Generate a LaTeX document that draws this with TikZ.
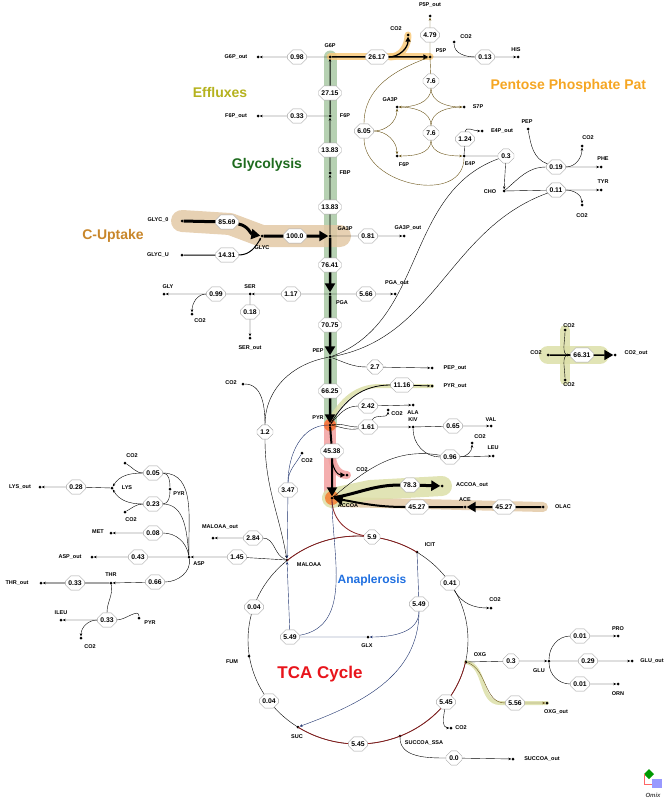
\documentclass[tikz,border=0pt]{standalone}
\usepackage{fontspec}
\setmainfont{Liberation Sans}
\usetikzlibrary{shapes.misc,arrows.meta}
\definecolor{olivel}{HTML}{B5B21E}
\definecolor{pppc}{HTML}{F5A623}
\definecolor{glyc}{HTML}{1E6B1E}
\definecolor{cupt}{HTML}{C8862A}
\definecolor{tcar}{HTML}{E8141B}
\definecolor{anab}{HTML}{1F6FE0}
\definecolor{bandg}{HTML}{A9C9A4}
\definecolor{bandb}{HTML}{E3C9A6}
\definecolor{bandr}{HTML}{F2A0A0}
\definecolor{bando}{HTML}{DCDFA8}
\definecolor{brl}{HTML}{6B5518}
\definecolor{navy}{HTML}{1B2F6B}
\definecolor{dred}{HTML}{8A1F1F}
\newcommand{\Met}[4]{\node[met] (#1) at (#2) {}; \node[lab] at (#3) {#4};}
\newcommand{\Flux}[3]{\node[flux] (#1) at (#2) {#3};}

\begin{document}
\begin{tikzpicture}[x=1pt,y=-1pt,
  met/.style = {circle, fill=black, inner sep=0pt, minimum size=3pt},
  lab/.style = {font=\fontsize{5.5}{6}\selectfont\bfseries, inner sep=0pt},
  flux/.style = {chamfered rectangle, chamfered rectangle xsep=1.8pt, draw=gray!70, fill=white, inner sep=1.2pt, minimum width=16pt, font=\fontsize{6.8}{8}\selectfont\bfseries},
  fl/.style = {-{Stealth[length=3pt,width=2.5pt]}, thin},
  big/.style = {-{Triangle[length=9pt,width=10pt]}, line width=3pt},
  mid/.style = {-{Triangle[length=5pt,width=5pt]}, line width=1.3pt},
  band/.style = {line cap=round, line join=round, opacity=0.85},
  head/.style = {font=\fontsize{14}{16}\selectfont\bfseries}]
\useasboundingbox (0,0) rectangle (667,800);

% highlight bands
\draw[band, bandg, line width=13pt] (330,57) -- (330,425);
\draw[band, bandr, line width=12pt] (330,425) -- (330,495);
\draw[band, bandr, line width=8pt] (332,455) to[out=-90,in=180] (347,475);
\draw[band, pppc!60, line width=7pt] (330,57) -- (430,57);
\draw[band, pppc!60, line width=7pt] (390,57) to[out=0,in=-90] (408,35);
\draw[band, bandb, line width=22pt] (182,221) -- (230,224) -- (262,236) -- (340,236);
\draw[band, bandb, line width=10pt] (543,507) -- (340,502);
\draw[band, bando, line width=20pt] (332,498) -- (370,490) -- (442,486);
\draw[band, bando, line width=4pt] (330,420) to[out=60,in=180] (380,386) -- (432,386);
\draw[band, bando, line width=4pt] (466,662) to[out=-10,in=180] (500,703) -- (547,703);
\draw[band, bando, line width=18pt] (548,355) -- (600,355);
\draw[band, bando, line width=10pt] (565,330) -- (565,380);
\fill[orange!70!red, opacity=0.6] (330,425) circle (6);
\fill[orange!70!red, opacity=0.6] (332,498) circle (7);

% section titles
\node[head, olivel] at (220,92) {Effluxes};
\node[head, pppc, anchor=west] at (487,86) {Pentose Phosphate Pat};
\node[head, glyc] at (267,165) {Glycolysis};
\node[head, cupt] at (113,236) {C-Uptake};
\node[head, anab, font=\fontsize{12}{14}\selectfont\bfseries] at (372,580) {Anaplerosis};
\node[head, tcar, font=\fontsize{17}{19}\selectfont\bfseries] at (320,674) {TCA Cycle};

% metabolites
\Met{G6P}{330,57}{330,46}{G6P}
\Met{G6Pout}{258,57}{236,57}{G6P\_out}
\Met{F6P}{330,116}{345,116}{F6P}
\Met{F6Pout}{258,116}{236,116}{F6P\_out}
\Met{FBP}{330,173}{345,173}{FBP}
\Met{GA3P}{330,236}{345,229}{GA3P}
\Met{GA3Pout}{404,236}{408,228}{GA3P\_out}
\Met{P5P}{430,57}{441,51}{P5P}
\Met{P5Pout}{430,16}{430,5}{P5P\_out}
\Met{CO2a}{408,35}{396,29}{CO2}
\Met{CO2b}{454,42}{466,37}{CO2}
\Met{HIS}{518,57}{516,50}{HIS}
\Met{GA3Pb}{397,107}{390,100}{GA3P}
\Met{S7P}{464,107}{478,107}{S7P}
\Met{F6Pb}{397,156}{404,165}{F6P}
\Met{E4P}{464,156}{470,164}{E4P}
\Met{E4Pout}{482,131}{502,131}{E4P\_out}
\Met{CHO}{504,191}{490,192}{CHO}
\Met{PEPc}{528,129}{527,122}{PEP}
\Met{CO2c}{582,146}{588,138}{CO2}
\Met{PHE}{601,167}{603,159}{PHE}
\Met{TYR}{601,190}{603,182}{TYR}
\Met{CO2d}{582,205}{582,216}{CO2}
\Met{GLYC0}{182,221}{158,220}{GLYC\_0}
\Met{GLYCU}{182,255}{158,255}{GLYC\_U}
\Met{GLYC}{262,236}{262,248}{GLYC}
\Met{PGA}{330,294}{342,303}{PGA}
\Met{PGAout}{395,294}{397,283}{PGA\_out}
\Met{SER}{250,294}{250,287}{SER}
\Met{GLY}{164,294}{168,287}{GLY}
\Met{CO2s}{192,314}{200,321}{CO2}
\Met{SERout}{250,338}{250,348}{SER\_out}
\Met{PEP}{330,357}{318,351}{PEP}
\Met{PEPout}{432,368}{455,368}{PEP\_out}
\Met{PYR}{330,425}{318,418}{PYR}
\Met{PYRout}{432,386}{455,386}{PYR\_out}
\Met{ALA}{413,405}{413,413}{ALA}
\Met{CO2k}{388,410}{397,414}{CO2}
\Met{KIV}{413,427}{413,420}{KIV}
\Met{VAL}{491,426}{491,420}{VAL}
\Met{CO2l}{472,443}{480,437}{CO2}
\Met{LEU}{493,456}{493,448}{LEU}
\Met{CO2e}{243,384}{231,383}{CO2}
\Met{CO2p}{302,453}{307,461}{CO2}
\Met{CO2g}{347,475}{362,470}{CO2}
\Met{ACCOA}{332,498}{348,506}{ACCOA}
\Met{ACCOAout}{442,486}{472,485}{ACCOA\_out}
\Met{ACE}{465,507}{465,500}{ACE}
\Met{OLAC}{543,507}{563,507}{OLAC}
\Met{CO2L}{548,355}{536,353}{CO2}
\Met{CO2T}{565,330}{569,326}{CO2}
\Met{CO2B}{565,380}{569,385}{CO2}
\Met{CO2out}{615,355}{636,353}{CO2\_out}
\Met{ICIT}{417,552}{430,545}{ICIT}
\Met{CO2h}{491,608}{495,600}{CO2}
\Met{MALOAA}{287,560}{309,565}{MALOAA}
\Met{MALOAAout}{213,538}{220,527}{MALOAA\_out}
\Met{GLX}{368,637}{367,646}{GLX}
\Met{FUM}{249,656}{232,662}{FUM}
\Met{SUC}{298,727}{297,737}{SUC}
\Met{SUCCOA}{400,736}{424,743}{SUCCOA\_SSA}
\Met{SUCCOAout}{513,759}{542,759}{SUCCOA\_out}
\Met{CO2i}{451,728}{461,728}{CO2}
\Met{OXG}{466,662}{480,655}{OXG}
\Met{OXGout}{547,703}{556,712}{OXG\_out}
\Met{GLU}{549,661}{539,671}{GLU}
\Met{PRO}{618,636}{618,629}{PRO}
\Met{GLUout}{632,661}{652,661}{GLU\_out}
\Met{ORN}{618,684}{618,694}{ORN}
\Met{ASP}{189,557}{199,564}{ASP}
\Met{ASPout}{92,557}{70,557}{ASP\_out}
\Met{MET}{111,533}{98,532}{MET}
\Met{LYS}{112,488}{127,488}{LYS}
\Met{LYSout}{40,487}{20,487}{LYS\_out}
\Met{CO2m}{125,463}{132,456}{CO2}
\Met{CO2n}{125,512}{131,520}{CO2}
\Met{PYRa}{170,489}{179,494}{PYR}
\Met{THR}{111,583}{111,575}{THR}
\Met{THRout}{41,583}{17,583}{THR\_out}
\Met{ILEU}{61,620}{61,613}{ILEU}
\Met{PYRb}{139,618}{150,623}{PYR}
\Met{CO2j}{81,638}{90,647}{CO2}

% TCA ring
\draw[thin] (358,640) ellipse [x radius=110, y radius=104];
\draw[dred, line width=0.8pt] (358,640) ++(229.8:110 and 104) arc[start angle=229.8, end angle=302.4, x radius=110, y radius=104];
\draw[dred, line width=0.8pt] (358,640) ++(12.2:110 and 104) arc[start angle=12.2, end angle=123, x radius=110, y radius=104];

% fluxes
\Flux{q098}{297,57}{0.98}
\Flux{q2617}{377,57}{26.17}
\Flux{q479}{430,35}{4.79}
\Flux{q013}{485,57}{0.13}
\Flux{q76a}{431,81}{7.6}
\Flux{q76b}{431,133}{7.6}
\Flux{q605}{364,131}{6.05}
\Flux{q124}{465,139}{1.24}
\Flux{q03}{506,156}{0.3}
\Flux{q019}{556,167}{0.19}
\Flux{q011}{556,190}{0.11}
\Flux{q2715}{330,93}{27.15}
\Flux{q033}{297,116}{0.33}
\Flux{q1383a}{330,150}{13.83}
\Flux{q1383b}{330,207}{13.83}
\Flux{q081}{368,236}{0.81}
\Flux{q8569}{227,222}{85.69}
\Flux{q1431}{227,255}{14.31}
\Flux{q100}{295,236}{100.0}
\Flux{q7641}{330,265}{76.41}
\Flux{q566}{366,294}{5.66}
\Flux{q117}{291,294}{1.17}
\Flux{q099}{216,294}{0.99}
\Flux{q018}{250,312}{0.18}
\Flux{q7075}{330,325}{70.75}
\Flux{q27}{375,367}{2.7}
\Flux{q6625}{330,391}{66.25}
\Flux{q1116}{402,385}{11.16}
\Flux{q242}{368,406}{2.42}
\Flux{q161}{368,427}{1.61}
\Flux{q065}{453,426}{0.65}
\Flux{q096}{450,457}{0.96}
\Flux{q12}{265,432}{1.2}
\Flux{q347}{288,490}{3.47}
\Flux{q4538}{332,451}{45.38}
\Flux{q783}{410,485}{78.3}
\Flux{q4527a}{417,507}{45.27}
\Flux{q4527b}{504,507}{45.27}
\Flux{q6631}{582,355}{66.31}
\Flux{q59}{372,537}{5.9}
\Flux{q041}{450,583}{0.41}
\Flux{q549r}{419,604}{5.49}
\Flux{q549l}{290,637}{5.49}
\Flux{q545r}{446,702}{5.45}
\Flux{q545b}{358,744}{5.45}
\Flux{q004b}{269,701}{0.04}
\Flux{q004a}{254,607}{0.04}
\Flux{q00}{454,758}{0.0}
\Flux{q03g}{511,661}{0.3}
\Flux{q001a}{580,636}{0.01}
\Flux{q029}{588,661}{0.29}
\Flux{q001b}{580,684}{0.01}
\Flux{q556}{515,703}{5.56}
\Flux{q284}{253,538}{2.84}
\Flux{q145}{237,557}{1.45}
\Flux{q043}{138,557}{0.43}
\Flux{q008}{153,533}{0.08}
\Flux{q005}{153,473}{0.05}
\Flux{q023}{153,504}{0.23}
\Flux{q028}{76,487}{0.28}
\Flux{q066}{155,582}{0.66}
\Flux{q033t}{75,583}{0.33}
\Flux{q033i}{107,620}{0.33}

% pentose phosphate
\draw[fl] (G6P) -- (q098) -- (G6Pout);
\draw[line width=1.5pt, -{Triangle[length=5pt,width=5pt]}] (G6P) -- (q2617) -- (P5P);
\draw[mid] (q2617.east) to[out=0,in=-90] (CO2a);
\draw[fl, brl] (P5P) -- (q479) -- (P5Pout);
\draw[fl] (CO2b) to[out=-90,in=180] (q013) -- (HIS);
\draw (P5P) -- (q013);
\draw[brl] (P5P) -- (q76a);
\draw[fl, brl] (q76a) to[out=-90,in=0] (GA3Pb);
\draw[fl, brl] (q76a) to[out=-90,in=180] (S7P);
\draw[brl] (GA3Pb) to[out=0,in=90] (q76b);
\draw[brl] (S7P) to[out=180,in=90] (q76b);
\draw[fl, brl] (q76b) to[out=-90,in=0] (F6Pb);
\draw[fl, brl] (q76b) to[out=-90,in=180] (E4P);
\draw[brl] (P5P) to[out=200,in=90] (q605);
\draw[brl] (q605) to[out=-90,in=-90, looseness=1.2] (E4P);
\draw[fl, brl] (q605) to[out=0,in=-90] (GA3Pb);
\draw[fl, brl] (q605) to[out=0,in=90] (F6Pb);
\draw[fl] (E4P) -- (q124) to[out=90,in=180] (E4Pout);
\draw (E4P) -- (q03);
\draw[fl] (q03) -- (CHO);
\draw (PEP) to[out=20,in=200] (q03);
\draw (PEP) to[out=10,in=200] (q011);
\draw (CHO) to[out=40,in=180] (q019);
\draw (PEPc) to[out=-80,in=160] (q019);
\draw[fl] (q019) -- (PHE);
\draw[fl] (q019) to[out=0,in=-90] (CO2c);
\draw[fl] (CHO) -- (q011) -- (TYR);
\draw[fl] (q011) to[out=0,in=90] (CO2d);

% glycolysis
\draw[fl, line width=0.8pt] (GA3P) -- (q1383b) -- (FBP);
\draw[fl, line width=0.8pt] (FBP) -- (q1383a) -- (F6P);
\draw[fl, line width=1pt] (F6P) -- (q2715) -- (G6P);
\draw[fl] (F6P) -- (q033) -- (F6Pout);
\draw[fl] (GA3P) -- (q081) -- (GA3Pout);
\draw[big] (GLYC0) -- (q8569) to[out=-10,in=170] (GLYC);
\draw[fl, line width=1pt] (GLYCU) -- (q1431) to[out=0,in=-120] (GLYC);
\draw[big] (GLYC) -- (q100) -- (GA3P);
\draw[big, line width=2.5pt] (GA3P) -- (q7641) -- (PGA);
\draw[fl] (PGA) -- (q566) -- (PGAout);
\draw[fl] (PGA) -- (q117) -- (SER);
\draw[fl] (SER) -- (q099) -- (GLY);
\draw[fl] (q099) to[out=180,in=90] (CO2s);
\draw[fl] (SER) -- (q018) -- (SERout);
\draw[big, line width=2.5pt] (PGA) -- (q7075) -- (PEP);
\draw[fl] (PEP) to[out=-20,in=180] (q27) -- (PEPout);
\draw[big, line width=2.5pt] (PEP) -- (q6625) -- (PYR);
\draw[fl, line width=0.8pt] (PYR) to[out=60,in=180] (q1116) -- (PYRout);
\draw[fl] (PYR) to[out=50,in=180] (q242) -- (ALA);
\draw[fl] (PYR) to[out=10,in=180] (q161) -- (KIV);
\draw (PYR) to[out=-10,in=190] (q161);
\draw[fl] (q161) to[out=60,in=-90] (CO2k);
\draw[fl] (KIV) -- (q065) -- (VAL);
\draw (KIV) to[out=-90,in=180] (q096);
\draw[fl] (q096) -- (LEU);
\draw[fl] (q096) to[out=0,in=-90] (CO2l);
\draw (ACCOA) to[out=40,in=170] (q096);
\draw (PEP) to[out=190,in=90] (q12);
\draw (CO2e) to[out=0,in=90] (q12);
\draw[fl] (q12) to[out=-90,in=100] (MALOAA);
\draw[navy] (PYR) to[out=180,in=90] (q347);
\draw[navy] (CO2p) to[out=-120,in=90] (q347);
\draw[fl, navy] (q347) -- (MALOAA);
\draw[big, line width=2pt] (PYR) -- (q4538) -- (ACCOA);
\draw[mid, line width=1pt] (q4538) to[out=-90,in=180] (CO2g);
\draw[big] (ACCOA) to[out=10,in=180] (q783) -- (ACCOAout);
\draw[big, line width=2pt] (OLAC) -- (q4527b) -- (ACE);
\draw[big, line width=2pt] (ACE) -- (q4527a) to[out=180,in=-10] (ACCOA);
\draw[fl] (CO2T) to[out=-90,in=180] (q6631);
\draw[fl] (CO2B) to[out=90,in=180] (q6631);
\draw[big, line width=1.5pt] (CO2L) -- (q6631) -- (CO2out);

% TCA and anaplerosis
\draw[dred, line width=0.8pt] (ACCOA) to[out=-90,in=170] (q59);
\draw[navy] (ICIT) -- (q549r);
\draw[fl, navy] (q549r) to[out=-90,in=0] (GLX);
\draw[fl, navy] (q549r) to[out=-90,in=20] (SUC);
\draw[navy] (GLX) -- (q549l);
\draw[navy] (ACCOA) to[out=-90,in=10] (q549l);
\draw[fl, navy] (q549l) -- (MALOAA);
\draw[fl] (q041) to[out=-60,in=180] (CO2h);
\draw[fl] (q545r) to[out=-100,in=180] (CO2i);
\draw[fl] (SUCCOA) to[out=-90,in=180] (q00) -- (SUCCOAout);
\draw[fl] (OXG) -- (q03g) -- (GLU);
\draw[fl] (GLU) to[out=90,in=180] (q001a) -- (PRO);
\draw[fl] (GLU) -- (q029) -- (GLUout);
\draw[fl] (GLU) to[out=-90,in=180] (q001b) -- (ORN);
\draw[fl, brl] (OXG) to[out=-20,in=180] (q556) -- (OXGout);
\draw[fl] (MALOAA) to[out=160,in=0] (q284) -- (MALOAAout);
\draw[fl] (MALOAA) -- (q145) -- (ASP);
\draw[fl] (ASP) -- (q043) -- (ASPout);
\draw[fl] (ASP) to[out=100,in=0] (q008) -- (MET);
\draw (ASP) to[out=95,in=0] (q023);
\draw (ASP) to[out=92,in=0] (q005);
\draw (CO2m) to[out=-30,in=180] (q005);
\draw (CO2n) to[out=30,in=180] (q023);
\draw (PYRa) to[out=90,in=0] (q005);
\draw (PYRa) to[out=-90,in=0] (q023);
\draw[fl] (q005) to[out=180,in=60] (LYS);
\draw[fl] (q023) to[out=180,in=-60] (LYS);
\draw[fl] (LYS) -- (q028) -- (LYSout);
\draw[fl] (ASP) to[out=-80,in=0] (q066) -- (THR);
\draw[fl, line width=0.9pt] (THR) -- (q033t) -- (THRout);
\draw (THR) to[out=-80,in=90] (q033i);
\draw (PYRb) to[out=90,in=0] (q033i);
\draw[fl] (q033i) -- (ILEU);
\draw[fl] (q033i) to[out=180,in=90] (CO2j);

% logo
\fill[blue!40] (652,779) rectangle (662,788);
\fill[green!60!black] (649,769) -- (654,774) -- (649,779) -- (644,774) -- cycle;
\draw[red!60, thin] (644,774) -- (644,784) -- (652,784);
\node[font=\fontsize{6}{7}\selectfont\bfseries\itshape, gray!60!black] at (653,795) {Omix};
\end{tikzpicture}
\end{document}
